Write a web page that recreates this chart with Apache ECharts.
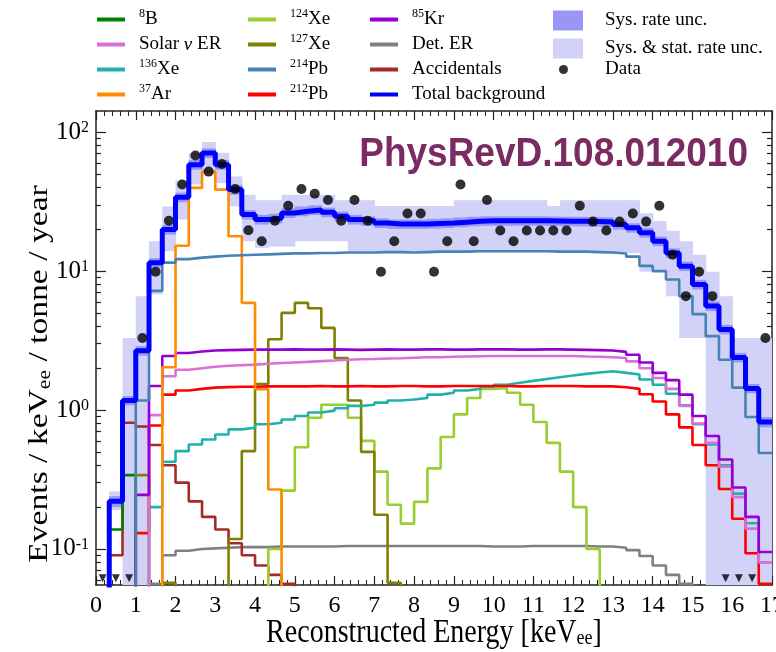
<!DOCTYPE html>
<html><head><meta charset="utf-8">
<script src="https://cdn.jsdelivr.net/npm/echarts@6/dist/echarts.min.js"></script>
<style>html,body{margin:0;padding:0;background:#fff}#c{width:776px;height:652px}</style>
</head><body><div id="c"></div>
<script>
// ---------------- data (51 bins of 1/3 keV from 0 to 17 keV) ----------------
const BIN_WIDTH = 1 / 3;
const X_MIN = 0, X_MAX = 17;
const Y_MIN = 0.055, Y_MAX = 142;

const totalBkg = [0.01,0.22,1.17,2.67,11.5,19.9,34,58.3,70.8,58.3,38.6,25.5,23.5,24,26.2,27,27.5,26.5,24.8,23.5,23,22.2,21.8,21.8,21.8,22,22.2,22.5,22.8,23,23,23,23,23,22.9,22.8,22.8,22.7,22.6,21.6,20.5,18.9,16.4,13.5,10.85,8.0,5.6,3.8,2.39,1.43,0.82];
const pb214 = [0.01,0.01,0.01,1.17,7.2,11.5,12.2,12.5,12.7,12.9,13.0,13.1,13.2,13.3,13.4,13.4,13.5,13.5,13.6,13.6,13.6,13.7,13.7,13.6,13.7,13.8,13.8,13.8,13.9,13.9,13.9,13.9,13.9,13.9,13.8,13.8,13.8,13.7,13.6,13.4,12.7,10.9,10.0,8.7,6.6,4.9,3.4,2.3,1.45,0.89,0.49];
const ar37 = [0.01,0.01,0.01,0.01,0.01,2.03,15.2,39.7,52,38.6,17.8,5.9,1.41,0.268,0.01,0.01,0.01,0.01,0.01,0.01,0.01,0.01,0.01,0.01,0.01,0.01,0.01,0.01,0.01,0.01,0.01,0.01,0.01,0.01,0.01,0.01,0.01,0.01,0.01,0.01,0.01,0.01,0.01,0.01,0.01,0.01,0.01,0.01,0.01,0.01,0.01];
const xe127 = [0.01,0.01,0.01,0.34,0.01,0.057,0.01,0.01,0.01,0.01,0.118,0.506,1.54,3.23,5.0,5.9,5.4,3.9,2.37,1.17,0.5,0.176,0.057,0.01,0.01,0.01,0.01,0.01,0.01,0.01,0.01,0.01,0.01,0.01,0.01,0.01,0.01,0.01,0.01,0.01,0.01,0.01,0.01,0.01,0.01,0.01,0.01,0.01,0.01,0.01,0.01];
const xe124 = [0.01,0.01,0.01,0.01,0.01,0.01,0.01,0.01,0.01,0.01,0.01,0.01,0.01,0.1,0.263,0.54,0.88,1.09,1.09,0.88,0.6,0.36,0.208,0.152,0.218,0.38,0.64,0.93,1.22,1.42,1.44,1.33,1.09,0.82,0.58,0.36,0.2,0.1,0.01,0.01,0.01,0.01,0.01,0.01,0.01,0.01,0.01,0.01,0.01,0.01,0.01];
const xe136 = [0.01,0.01,0.01,0.01,0.2,0.424,0.506,0.564,0.613,0.667,0.725,0.746,0.79,0.81,0.855,0.905,0.96,0.99,1.03,1.07,1.09,1.13,1.17,1.19,1.22,1.29,1.33,1.38,1.42,1.47,1.52,1.57,1.62,1.67,1.72,1.77,1.82,1.86,1.9,1.85,1.8,1.66,1.52,1.31,1.08,0.79,0.565,0.4,0.25,0.153,0.08];
const solarNu = [0.01,0.01,0.01,0.01,0.918,1.75,1.95,2.0,2.05,2.08,2.1,2.12,2.15,2.18,2.2,2.22,2.25,2.27,2.3,2.32,2.33,2.35,2.36,2.38,2.4,2.4,2.42,2.43,2.44,2.45,2.45,2.45,2.45,2.45,2.45,2.45,2.43,2.42,2.4,2.37,2.24,2.0,1.7,1.42,1.07,0.8,0.58,0.39,0.236,0.14,0.08];
const kr85 = [0.01,0.01,0.01,0.245,1.49,2.45,2.57,2.64,2.68,2.7,2.71,2.72,2.72,2.72,2.73,2.72,2.72,2.73,2.72,2.71,2.72,2.73,2.72,2.72,2.73,2.73,2.72,2.72,2.73,2.74,2.73,2.72,2.72,2.73,2.73,2.72,2.71,2.7,2.68,2.62,2.5,2.2,1.85,1.64,1.29,0.905,0.65,0.44,0.277,0.17,0.095];
const pb212 = [0.01,0.01,0.01,0.13,0.774,1.29,1.38,1.42,1.45,1.46,1.47,1.47,1.48,1.48,1.48,1.48,1.49,1.48,1.48,1.49,1.48,1.48,1.49,1.49,1.48,1.48,1.49,1.49,1.49,1.49,1.49,1.48,1.48,1.49,1.49,1.49,1.48,1.48,1.48,1.46,1.42,1.3,1.15,0.93,0.75,0.56,0.4,0.27,0.165,0.093,0.056];
const detER = [0.01,0.01,0.01,0.01,0.056,0.09,0.097,0.1,0.101,0.102,0.103,0.103,0.103,0.104,0.104,0.104,0.104,0.104,0.105,0.105,0.105,0.105,0.105,0.105,0.105,0.105,0.105,0.105,0.105,0.104,0.104,0.104,0.105,0.105,0.105,0.105,0.105,0.104,0.104,0.102,0.098,0.089,0.076,0.065,0.056,0.01,0.01,0.01,0.01,0.01,0.01];
const accidentals = [0.01,0.09,0.81,0.76,0.56,0.4,0.3,0.22,0.17,0.138,0.11,0.09,0.076,0.065,0.056,0.01,0.01,0.01,0.01,0.01,0.01,0.01,0.01,0.01,0.01,0.01,0.01,0.01,0.01,0.01,0.01,0.01,0.01,0.01,0.01,0.01,0.01,0.01,0.01,0.01,0.01,0.01,0.01,0.01,0.01,0.01,0.01,0.01,0.01,0.01,0.01];
const b8 = [0.01,0.138,0.34,0.01,0.01,0.01,0.01,0.01,0.01,0.01,0.01,0.01,0.01,0.01,0.01,0.01,0.01,0.01,0.01,0.01,0.01,0.01,0.01,0.01,0.01,0.01,0.01,0.01,0.01,0.01,0.01,0.01,0.01,0.01,0.01,0.01,0.01,0.01,0.01,0.01,0.01,0.01,0.01,0.01,0.01,0.01,0.01,0.01,0.01,0.01,0.01];

// systematic band (dark) and sys+stat band (light): upper / lower per bin
const sysHi = [null,0.24,1.26,2.88,12.4,21.5,36.7,63,76.5,63,41.7,27.5,25.4,25.9,28.3,29.2,29.7,28.6,26.8,25.4,24.8,24,23.5,23.5,23.5,23.8,24,24.3,24.6,24.8,24.8,24.8,24.8,24.8,24.7,24.6,24.6,24.5,24.4,23.3,22.1,20.4,17.7,14.6,11.7,8.64,6.05,4.1,2.58,1.54,0.89];
const sysLo = [null,0.2,1.08,2.46,10.6,18.3,31.3,53.6,65.1,53.6,35.5,23.5,21.6,22.1,24.1,24.8,25.3,24.4,22.8,21.6,21.2,20.4,20.1,20.1,20.1,20.2,20.4,20.7,21,21.2,21.2,21.2,21.2,21.2,21.1,21,21,20.9,20.8,19.9,18.9,17.4,15.1,12.4,10,7.36,5.15,3.5,2.2,1.32,0.75];
const statHi = [null,0.26,3.3,6.6,16.4,29.2,45,71,85,71,48,35.4,32.4,32.4,35.4,35.4,35.4,35.4,32.4,32.4,32.4,29.4,29.4,29.4,29.4,29.4,29.4,32.4,32.4,32.4,32.4,32.4,32.4,32.4,29.4,32.4,32.4,32.4,32.4,32.4,32.4,26.1,22.9,19.5,16.4,13.1,9.9,6.6,3.3,3.3,3.3];
const statLo = [null,0.19,0.01,0.01,6.8,13.9,23.5,42,49.5,43,29.2,16.4,14.7,15,15,16.4,16.4,16.4,16.4,13.9,13.9,13.9,13.9,13.9,13.9,13.9,13.9,13.9,13.9,13.9,13.9,13.9,13.9,13.9,13.9,13.5,13.5,13.5,13.5,13.5,13.5,9.9,9.9,6.6,3.3,3.3,0.01,0.01,0.01,0.01,0.01];

// observed data: bin index and rate
const dataBin  = [3,4,5,6,7,8,9,10,11,12,13,14,15,16,17,18,19,20,21,22,23,24,25,26,27,28,29,30,31,32,33,34,35,36,37,38,39,40,41,42,43,44,45,46,50];
const dataRate = [3.3,9.9,23,42,68,52,59,39,19.7,16.4,23,29.5,39,36,32.5,23,32.5,23,9.9,16.4,26,26,9.9,16.4,42,16.4,32.5,19.6,16.4,19.6,19.6,19.6,19.6,29.5,22.7,19.6,22.7,26,22.7,29.5,13.1,6.6,9.9,6.6,3.3];
// bins with zero observed events (drawn as downward triangles on the axis)
const zeroBins = [0,1,2,47,48,49];
const ZERO_MARK = 0.0615;

const yMajor = [0.1,1,10,100];
const yMinor = [0.06,0.07,0.08,0.09,0.2,0.3,0.4,0.5,0.6,0.7,0.8,0.9,2,3,4,5,6,7,8,9,20,30,40,50,60,70,80,90];

// ---------------- chart ----------------
const SERIF = 'Liberation Serif';
const AX = '#222';
function stepData(vals) {
  const d = vals.map((v, i) => [i * BIN_WIDTH, v]);
  d.push([vals.length * BIN_WIDTH, vals[vals.length - 1]]);
  return d;
}
function bandData(lo, hi) {
  const d = [];
  for (let i = 0; i < lo.length; i++) {
    if (lo[i] == null || hi[i] == null) continue;
    d.push([i * BIN_WIDTH, (i + 1) * BIN_WIDTH, lo[i], hi[i]]);
  }
  return d;
}
function bandRender(color) {
  return function (params, api) {
    const p0 = api.coord([api.value(0), api.value(3)]);
    const p1 = api.coord([api.value(1), api.value(2)]);
    const cs = params.coordSys;
    const r = echarts.graphic.clipRectByRect(
      {x: p0[0], y: p0[1], width: p1[0] - p0[0] + 0.6, height: p1[1] - p0[1]},
      {x: cs.x, y: cs.y, width: cs.width, height: cs.height});
    return r && {type: 'rect', shape: r, style: {fill: color}};
  };
}
function histo(name, vals, color, width, z) {
  return {name, type: 'line', step: 'end', data: stepData(vals), symbol: 'none',
    color, lineStyle: {color, width: width || 2.6}, clip: true, z: z || 3, animation: false};
}

const C = {
  b8: '#008000', solar: '#da70d6', xe136: '#20b2aa', ar37: '#ff8c00',
  xe124: '#9acd32', xe127: '#808000', pb214: '#4682b4', pb212: '#ff0000',
  kr85: '#9400d3', det: '#808080', acc: '#a52a2a', total: '#0000ff',
  sys: '#9898f4', stat: '#d2d2f9'
};

const legendLabels = {
  '8B': '{sup|8}B', 'Solar ν ER': 'Solar {it|ν} ER', '136Xe': '{sup|136}Xe', '37Ar': '{sup|37}Ar',
  '124Xe': '{sup|124}Xe', '127Xe': '{sup|127}Xe', '214Pb': '{sup|214}Pb', '212Pb': '{sup|212}Pb',
  '85Kr': '{sup|85}Kr', 'Det. ER': 'Det. ER', 'Accidentals': 'Accidentals', 'Total background': 'Total background',
  'Sys. rate unc.': 'Sys. rate unc.', 'Sys. & stat. rate unc.': 'Sys. & stat. rate unc.', 'Data': 'Data'
};
function legText(padLeft) {
  return {
    fontFamily: SERIF, fontSize: 19, color: '#000', lineHeight: 23, padding: [0, 0, 0, padLeft],
    rich: {sup: {fontFamily: SERIF, fontSize: 12, verticalAlign: 'top', lineHeight: 12}, it: {fontFamily: SERIF, fontSize: 19, fontStyle: 'italic'}}
  };
}
function legend(names, left, top, extra) {
  return Object.assign({
    orient: 'vertical', left, top, itemGap: 2, itemWidth: 28, itemHeight: 4, icon: 'rect',
    data: names, formatter: n => legendLabels[n], textStyle: legText(9), selectedMode: false, padding: 0
  }, extra || {});
}

function yAxisDef(pos, major) {
  return {
    type: 'log', logBase: 10, min: Y_MIN, max: Y_MAX, position: pos,
    axisLine: {show: major, lineStyle: {color: AX, width: 1.5}},
    axisTick: {show: true, inside: true, length: major ? 10 : 5, customValues: major ? yMajor : yMinor, lineStyle: {color: AX, width: 1.2}},
    minorTick: {show: false}, splitLine: {show: false}, minorSplitLine: {show: false},
    axisLabel: (major && pos === 'left') ? {
      show: true, customValues: yMajor, margin: 7,
      formatter: v => '{b|10}{s|' + Math.round(Math.log10(v)) + '}',
      rich: {b: {fontFamily: SERIF, fontSize: 25, color: '#000'}, s: {fontFamily: SERIF, fontSize: 16, color: '#000', verticalAlign: 'top'}}
    } : {show: false}
  };
}
function xAxisDef(pos) {
  const bottom = pos === 'bottom';
  return {
    type: 'value', min: X_MIN, max: X_MAX, interval: 1, position: pos,
    axisLine: {show: true, lineStyle: {color: AX, width: 1.5}},
    axisTick: {inside: true, length: 9, lineStyle: {color: AX, width: 1.2}},
    minorTick: {show: true, splitNumber: 5, length: 5, lineStyle: {color: AX, width: 1}},
    splitLine: {show: false}, minorSplitLine: {show: false},
    axisLabel: bottom ? {fontFamily: SERIF, fontSize: 24, color: '#000', margin: 9} : {show: false}
  };
}

const option = {
  animation: false,
  backgroundColor: '#fff',
  grid: {left: 96, right: 4, top: 111, bottom: 67, containLabel: false, outerBoundsMode: 'none'},
  legend: [
    legend(['8B', 'Solar ν ER', '136Xe', '37Ar'], 97, 8),
    legend(['124Xe', '127Xe', '214Pb', '212Pb'], 248, 8),
    legend(['85Kr', 'Det. ER', 'Accidentals', 'Total background'], 370, 8),
    legend(['Sys. rate unc.', 'Sys. & stat. rate unc.'], 553, 9, {itemWidth: 30, itemHeight: 20, itemGap: 5, textStyle: legText(17)}),
    legend(['Data'], 559, 58, {icon: 'circle', itemWidth: 9, itemHeight: 9, textStyle: legText(32)})
  ],
  graphic: [
    {type: 'text', x: 40, y: 374, rotation: Math.PI / 2, scaleX: 1.2, silent: true,
      style: {text: 'Events / keV{sub|ee} / tonne / year', fill: '#000', font: '28px "Liberation Serif"',
        align: 'center', verticalAlign: 'middle',
        rich: {sub: {fontFamily: SERIF, fontSize: 18, verticalAlign: 'bottom', fill: '#000'}}}},
    {type: 'text', x: 434, y: 633, scaleY: 1.18, silent: true,
      style: {text: 'Reconstructed Energy [keV{sub|ee}]', fill: '#000', font: '28px "Liberation Serif"',
        align: 'center', verticalAlign: 'middle',
        rich: {sub: {fontFamily: SERIF, fontSize: 18, verticalAlign: 'bottom', fill: '#000'}}}},
    {type: 'text', x: 748, y: 155, scaleY: 1.08, silent: true, z: 100,
      style: {text: 'PhysRevD.108.012010', fill: '#7a2c62', font: 'bold 37px "Liberation Sans"',
        align: 'right', verticalAlign: 'middle'}}
  ],
  xAxis: [xAxisDef('bottom'), xAxisDef('top')],
  yAxis: [yAxisDef('left', true), yAxisDef('left', false), yAxisDef('right', true), yAxisDef('right', false)],
  series: [
    {name: 'Sys. & stat. rate unc.', type: 'custom', renderItem: bandRender(C.stat), data: bandData(statLo, statHi),
      encode: {x: [0, 1], y: [2, 3]}, itemStyle: {color: C.stat}, z: 1, animation: false},
    {name: 'Sys. rate unc.', type: 'custom', renderItem: bandRender(C.sys), data: bandData(sysLo, sysHi),
      encode: {x: [0, 1], y: [2, 3]}, itemStyle: {color: C.sys}, z: 1, animation: false},
    histo('Det. ER', detER, C.det),
    histo('Accidentals', accidentals, C.acc),
    histo('8B', b8, C.b8),
    histo('124Xe', xe124, C.xe124),
    histo('127Xe', xe127, C.xe127),
    histo('136Xe', xe136, C.xe136),
    histo('212Pb', pb212, C.pb212),
    histo('Solar ν ER', solarNu, C.solar),
    histo('85Kr', kr85, C.kr85),
    histo('37Ar', ar37, C.ar37),
    histo('214Pb', pb214, C.pb214),
    histo('Total background', totalBkg, C.total, 5, 4),
    {name: 'Data', type: 'scatter', data: dataBin.map((b, i) => [(b + 0.5) * BIN_WIDTH, dataRate[i]]),
      symbol: 'circle', symbolSize: 10, itemStyle: {color: '#000'}, z: 6, animation: false},
    {name: 'zero', type: 'scatter', data: zeroBins.map(b => [(b + 0.5) * BIN_WIDTH, ZERO_MARK]),
      symbol: 'triangle', symbolRotate: 180, symbolSize: [8, 8], itemStyle: {color: '#000'}, z: 6, animation: false}
  ]
};
const chart = echarts.init(document.getElementById('c'), null, {renderer: 'canvas', width: 776, height: 652});
chart.setOption(option);
</script>
</body></html>
